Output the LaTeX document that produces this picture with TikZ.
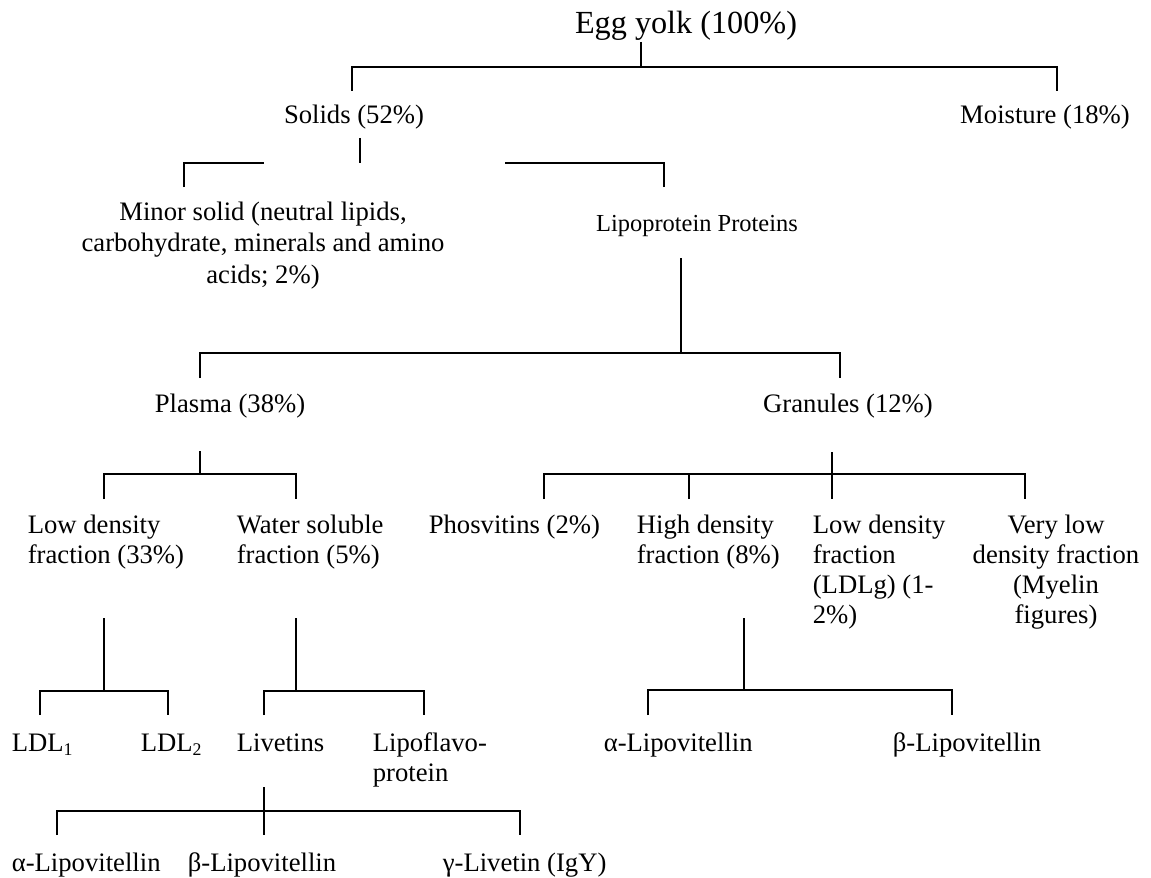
\documentclass[tikz,border=0pt]{standalone}
\usepackage{fontspec}
\setmainfont{Liberation Serif}
\usepackage{tikz}
\tikzset{
		txt/.style  = {inner sep = 0pt, font = \fontsize{12}{13.5}\selectfont},
		txtl/.style = {txt, anchor = base west, align = left},
		txtc/.style = {txt, anchor = base, align = center},
		link/.style = {line width = 0.75pt}
	}

\begin{document}
\begin{tikzpicture}[x = 0.45pt, y = -0.45pt, link]
	\useasboundingbox (0,0) rectangle (1151,878);

	% text (multi-line nodes sit on their last line)
	\node[txtc, font = \fontsize{14.5}{16}\selectfont] (egg) at (686,34) {Egg yolk (100\%)};
	\node[txtc] (solids)   at (354,123)  {Solids (52\%)};
	\node[txtc] (moisture) at (1045,123) {Moisture (18\%)};
	\node[txtc, font = \fontsize{12}{14}\selectfont] (minor) at (263,283)
		{Minor solid (neutral lipids,\\carbohydrate, minerals and amino\\acids; 2\%)};
	\node[txtc, font = \fontsize{11}{13}\selectfont] (lipo) at (697,231) {Lipoprotein Proteins};
	\node[txtc] (plasma)   at (230,412) {Plasma (38\%)};
	\node[txtc] (granules) at (848,412) {Granules (12\%)};

	\node[txtl] (ldf)  at (27,563)  {Low density\\fraction (33\%)};
	\node[txtl] (wsf)  at (236,563) {Water soluble\\fraction (5\%)};
	\node[txtl] (phos) at (428,533) {Phosvitins (2\%)};
	\node[txtl] (hdf)  at (636,563) {High density\\fraction (8\%)};
	\node[txtl] (ldlg) at (812,623) {Low density\\fraction\\(LDLg) (1-\\2\%)};
	\node[txtc] (vldf) at (1056,623) {Very low\\density fraction\\(Myelin\\figures)};

	\node[txtl] (ldl1)      at (11,751)  {LDL\textsubscript{1}};
	\node[txtl] (ldl2)      at (140,751) {LDL\textsubscript{2}};
	\node[txtl] (livetins)  at (236,751) {Livetins};
	\node[txtl] (lipoflavo) at (372,781) {Lipoflavo-\\protein};
	\node[txtl] (alphaG)    at (603,751) {α-Lipovitellin};
	\node[txtl] (betaG)     at (892,751) {β-Lipovitellin};

	\node[txtl] (alphaL) at (11,871)  {α-Lipovitellin};
	\node[txtl] (betaL)  at (187,871) {β-Lipovitellin};
	\node[txtl] (gammaL) at (442,871) {γ-Livetin (IgY)};

	% bracket ends
	\coordinate (eggOut)      at (641,42);
	\coordinate (solidsIn)    at (352,91);
	\coordinate (moistureIn)  at (1057,91);
	\coordinate (solidsOut)   at (360,138);
	\coordinate (minorIn)     at (184,187);
	\coordinate (lipoIn)      at (664,187);
	\coordinate (lipoOut)     at (681,258);
	\coordinate (plasmaIn)    at (200,378);
	\coordinate (granulesIn)  at (840,378);
	\coordinate (plasmaOut)   at (200,451);
	\coordinate (ldfIn)       at (104,499);
	\coordinate (wsfIn)       at (296,499);
	\coordinate (granulesOut) at (832,452);
	\coordinate (phosIn)      at (544,499);
	\coordinate (hdfIn)       at (689,499);
	\coordinate (ldlgIn)      at (832,499);
	\coordinate (vldfIn)      at (1025,499);
	\coordinate (ldfOut)      at (104,618);
	\coordinate (ldlaIn)      at (40,715);
	\coordinate (ldlbIn)      at (168,715);
	\coordinate (wsfOut)      at (296,618);
	\coordinate (livetinsIn)  at (264,715);
	\coordinate (lipoflavoIn) at (424,715);
	\coordinate (hdfOut)      at (744,618);
	\coordinate (alphaGIn)    at (648,715);
	\coordinate (betaGIn)     at (952,715);
	\coordinate (livetinsOut) at (264,787);
	\coordinate (alphaLIn)    at (57,835);
	\coordinate (betaLIn)     at (264,835);
	\coordinate (gammaLIn)    at (520,835);

	% brackets
	\draw (eggOut) -- ++(0,25);
	\draw (solidsIn) -- ++(0,-24) -| (moistureIn);

	\draw (solidsOut) -- ++(0,25);
	\draw (minorIn) -- ++(0,-24) -- ++(80,0);
	\draw (lipoIn) -- ++(0,-24) -- ++(-159,0);

	\draw (lipoOut) -- ++(0,95);
	\draw (plasmaIn) -- ++(0,-25) -| (granulesIn);

	\draw (plasmaOut) -- ++(0,23);
	\draw (ldfIn) -- ++(0,-25) -| (wsfIn);

	\draw (granulesOut) -- (ldlgIn);
	\draw (phosIn) -- ++(0,-25) -| (vldfIn);
	\draw (hdfIn) -- ++(0,-25);

	\draw (ldfOut) -- ++(0,73);
	\draw (ldlaIn) -- ++(0,-24) -| (ldlbIn);
	\draw (wsfOut) -- ++(0,73);
	\draw (livetinsIn) -- ++(0,-24) -| (lipoflavoIn);
	\draw (hdfOut) -- ++(0,72);
	\draw (alphaGIn) -- ++(0,-25) -| (betaGIn);

	\draw (livetinsOut) -- (betaLIn);
	\draw (alphaLIn) -- ++(0,-24) -| (gammaLIn);
\end{tikzpicture}
\end{document}
